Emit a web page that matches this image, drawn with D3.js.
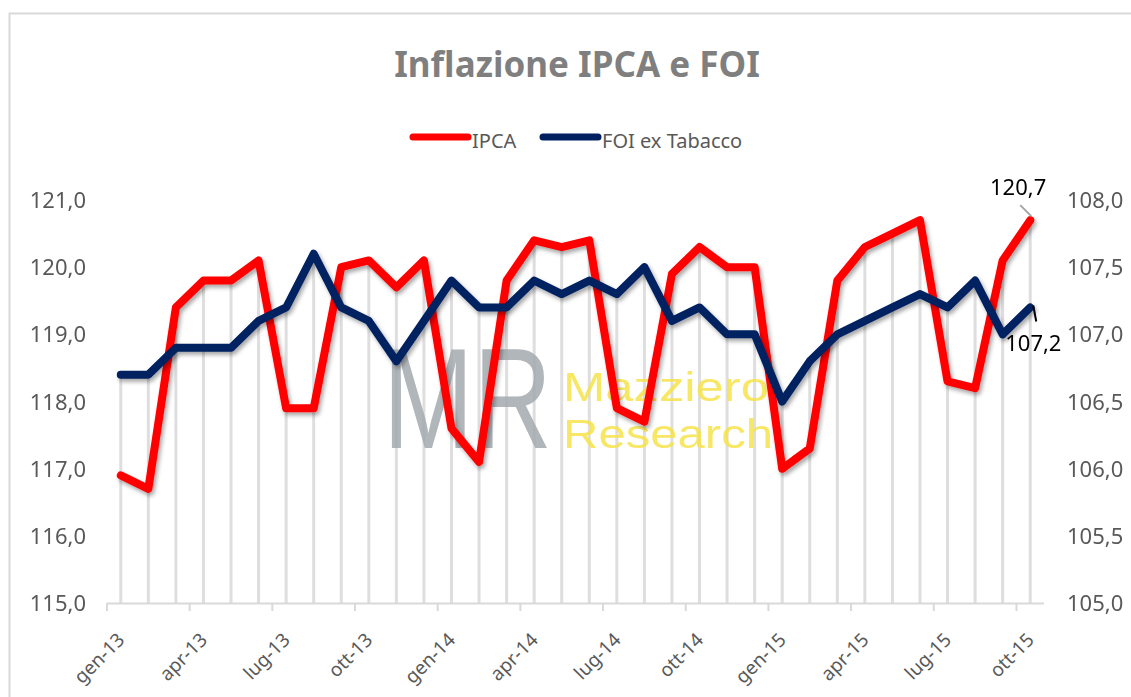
<!DOCTYPE html>
<html>
<head>
<meta charset="utf-8">
<script src="https://cdn.jsdelivr.net/npm/d3@7"></script>
<style>
  body { margin: 0; background: #fff; }
  svg { display: block; }
</style>
</head>
<body>
<svg width="1131" height="697"></svg>
<script>
// months gen-13 .. ott-15
var months = ["gen-13","feb-13","mar-13","apr-13","mag-13","giu-13","lug-13","ago-13","set-13","ott-13","nov-13","dic-13",
              "gen-14","feb-14","mar-14","apr-14","mag-14","giu-14","lug-14","ago-14","set-14","ott-14","nov-14","dic-14",
              "gen-15","feb-15","mar-15","apr-15","mag-15","giu-15","lug-15","ago-15","set-15","ott-15"];
var ipca = [116.9,116.7,119.4,119.8,119.8,120.1,117.9,117.9,120.0,120.1,119.7,120.1,
            117.6,117.1,119.8,120.4,120.3,120.4,117.9,117.7,119.9,120.3,120.0,120.0,
            117.0,117.3,119.8,120.3,120.5,120.7,118.3,118.2,120.1,120.7];
var foi = [106.7,106.7,106.9,106.9,106.9,107.1,107.2,107.6,107.2,107.1,106.8,107.1,
           107.4,107.2,107.2,107.4,107.3,107.4,107.3,107.5,107.1,107.2,107.0,107.0,
           106.5,106.8,107.0,107.1,107.2,107.3,107.2,107.4,107.0,107.2];
var leftTicks = [115,116,117,118,119,120,121];
var rightTicks = [105,105.5,106,106.5,107,107.5,108];
var tickMonths = ["gen-13","apr-13","lug-13","ott-13","gen-14","apr-14","lug-14","ott-14","gen-15","apr-15","lug-15","ott-15"];

var svg = d3.select("svg");
var fmt = function(v) { return d3.format(".1f")(v).replace(".", ","); };

var x = d3.scaleBand().domain(months).range([107, 1044]);
var yL = d3.scaleLinear().domain([115, 121]).range([603, 200]);
var yR = d3.scaleLinear().domain([105, 108]).range([603, 200]);
var cx = function(m) { return x(m) + x.bandwidth() / 2; };

//shadow under the lines
var f = svg.append("defs").append("filter").attr("id", "shadow")
  .attr("x", "-5%").attr("y", "-5%").attr("width", "110%").attr("height", "120%");
f.append("feDropShadow").attr("dx", 2).attr("dy", 3).attr("stdDeviation", 2)
  .attr("flood-color", "#000").attr("flood-opacity", 0.35);

// chart border
svg.append("rect").attr("x", 9.5).attr("y", 13.5).attr("width", 1140).attr("height", 700)
  .style("fill", "none").style("stroke", "#d9d9d9").style("stroke-width", 2);

// title
svg.append("text").attr("x", 577).attr("y", 77).style("text-anchor", "middle")
  .style("font-family", "Noto Sans").style("font-weight", "bold").style("font-size", "35px")
  .style("fill", "#7f7f7f").text("Inflazione IPCA e FOI");

// legend
var legend = [{name: "IPCA", color: "#ff0000", x: 413}, {name: "FOI ex Tabacco", color: "#002060", x: 543}];
var lg = svg.selectAll("g.legend").data(legend).enter().append("g").attr("class", "legend");
lg.append("line").attr("x1", function(d) { return d.x; }).attr("x2", function(d) { return d.x + 55; })
  .attr("y1", 137).attr("y2", 137).style("stroke", function(d) { return d.color; })
  .style("stroke-width", 7).style("stroke-linecap", "round");
lg.append("text").attr("x", function(d) { return d.x + 59; }).attr("y", 148)
  .style("font-family", "Noto Sans").style("font-size", "20px").style("fill", "#595959")
  .text(function(d) { return d.name; });

// drop lines
svg.append("g").selectAll("line").data(months).enter().append("line")
  .attr("x1", cx).attr("x2", cx)
  .attr("y1", function(d, i) { return Math.min(yL(ipca[i]), yR(foi[i])); })
  .attr("y2", 603)
  .style("stroke", "#dedede").style("stroke-width", 3);

// watermark
var wm = svg.append("g").style("opacity", 0.85);
wm.append("text").attr("transform", "translate(383,448) scale(0.76,1)")
  .style("font-family", "Liberation Sans").style("font-size", "143px").style("fill", "#a3a9af").text("MR");
wm.append("text").attr("x", 563).attr("y", 401).attr("textLength", 206).attr("lengthAdjust", "spacingAndGlyphs")
  .style("font-family", "Liberation Sans").style("font-size", "40px").style("fill", "#f6e34a").text("Mazziero");
wm.append("text").attr("x", 563).attr("y", 448).attr("textLength", 210).attr("lengthAdjust", "spacingAndGlyphs")
  .style("font-family", "Liberation Sans").style("font-size", "40px").style("fill", "#f6e34a").text("Research");

// x axis
svg.append("line").attr("x1", 107).attr("x2", 1044).attr("y1", 603.5).attr("y2", 603.5)
  .style("stroke", "#d9d9d9").style("stroke-width", 2);
svg.append("g").selectAll("line").data(tickMonths).enter().append("line")
  .attr("x1", function(d) { return x(d); }).attr("x2", function(d) { return x(d); })
  .attr("y1", 603).attr("y2", 611).style("stroke", "#d9d9d9").style("stroke-width", 2);
svg.append("g").selectAll("text").data(tickMonths).enter().append("text")
  .attr("transform", function(d) { return "translate(" + (cx(d) + 5) + ",641) rotate(-45)"; })
  .style("text-anchor", "end").style("font-family", "Noto Sans").style("font-size", "19px")
  .style("fill", "#595959").text(function(d) { return d; });

// y axes labels
svg.append("g").selectAll("text").data(leftTicks).enter().append("text")
  .attr("x", 86).attr("y", function(d) { return yL(d) + 8; }).style("text-anchor", "end")
  .style("font-family", "Noto Sans").style("font-size", "22px").style("fill", "#595959").text(fmt);
svg.append("g").selectAll("text").data(rightTicks).enter().append("text")
  .attr("x", 1067).attr("y", function(d) { return yR(d) + 8; })
  .style("font-family", "Noto Sans").style("font-size", "22px").style("fill", "#595959").text(fmt);

// series
var lineL = d3.line().x(function(d, i) { return cx(months[i]); }).y(function(d) { return yL(d); });
var lineR = d3.line().x(function(d, i) { return cx(months[i]); }).y(function(d) { return yR(d); });
svg.append("path").attr("d", lineL(ipca)).attr("filter", "url(#shadow)")
  .style("fill", "none").style("stroke", "#ff0000").style("stroke-width", 8)
  .style("stroke-linejoin", "round").style("stroke-linecap", "round");
svg.append("path").attr("d", lineR(foi)).attr("filter", "url(#shadow)")
  .style("fill", "none").style("stroke", "#002060").style("stroke-width", 8)
  .style("stroke-linejoin", "round").style("stroke-linecap", "round");

// last value labels
var last = months.length - 1;
var px = cx(months[last]), pyL = yL(ipca[last]), pyR = yR(foi[last]);
svg.append("line").attr("x1", px - 10).attr("y1", pyL - 15).attr("x2", px + 1).attr("y2", pyL - 4)
  .style("stroke", "#a6a6a6").style("stroke-width", 2);
svg.append("text").attr("x", px + 16).attr("y", pyL - 25).style("text-anchor", "end")
  .style("font-family", "Noto Sans").style("font-size", "22px").style("fill", "#000").text(fmt(ipca[last]));
svg.append("line").attr("x1", px + 3).attr("y1", pyR - 2).attr("x2", px + 6).attr("y2", pyR + 14)
  .style("stroke", "#000").style("stroke-width", 2);
svg.append("text").attr("x", px - 25).attr("y", pyR + 44)
  .style("font-family", "Noto Sans").style("font-size", "22px").style("fill", "#000").text(fmt(foi[last]));
</script>
</body>
</html>
